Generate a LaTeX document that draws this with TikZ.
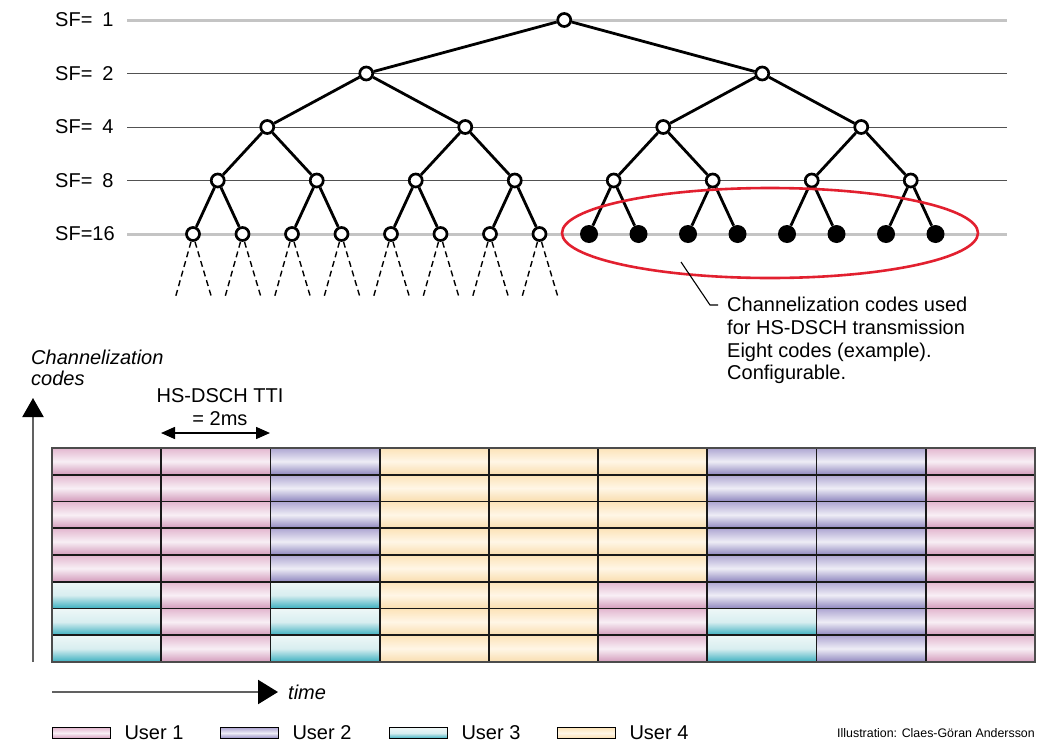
\documentclass[tikz,border=0pt]{standalone}
\usepackage{fontspec}
\setmainfont{Liberation Sans}
\usetikzlibrary{positioning, arrows.meta, shapes.geometric}

\definecolor{codered}{HTML}{E2202F}
\definecolor{pinkTop}{HTML}{E3B7CF}
\definecolor{pinkMid}{HTML}{F8EFF5}
\definecolor{pinkBot}{HTML}{D39BBB}
\definecolor{purpleTop}{HTML}{AEA6D2}
\definecolor{purpleMid}{HTML}{EEEDF6}
\definecolor{purpleBot}{HTML}{8E86BE}
\definecolor{tealTop}{HTML}{EEF7F7}
\definecolor{tealMid}{HTML}{D8EEF0}
\definecolor{tealBot}{HTML}{3AAFBF}
\definecolor{creamTop}{HTML}{FCE3B8}
\definecolor{creamMid}{HTML}{FFF6E6}
\definecolor{creamBot}{HTML}{F9DDAE}

\newcommand{\labelsize}{\fontsize{20}{22.7}\selectfont}

\begin{document}
\begin{tikzpicture}[x=1pt, y=-1pt, font=\labelsize,
    code/.style={circle, draw, fill=white, line width=2.7pt, inner sep=0pt, minimum size=13pt},
    usedcode/.style={circle, fill=black, inner sep=0pt, minimum size=18pt},
    branch/.style={line width=2.8pt},
    stub/.style={dash pattern=on 6pt off 4pt, line width=1.4pt},
    mainline/.style={line width=3pt, black!23},
    subline/.style={line width=1pt, black!68},
    user1/.style={top color=pinkTop, bottom color=pinkBot, middle color=pinkMid},
    user2/.style={top color=purpleTop, bottom color=purpleBot, middle color=purpleMid},
    user3/.style={top color=tealTop, bottom color=tealBot, middle color=tealMid},
    user4/.style={top color=creamTop, bottom color=creamBot, middle color=creamMid},
    cellline/.style={line width=1.8pt, black!90},
    axis/.style={line width=2.2pt, black!62},
    swatch/.style={rectangle, draw, line width=1.3pt, inner sep=0pt, minimum width=58pt, minimum height=11pt}]
    \useasboundingbox (0,0) rectangle (1044,744);

    % SF levels
    \foreach \lev/\lab in {0/{SF=\enspace1}, 1/{SF=\enspace2}, 2/{SF=\enspace4}, 3/{SF=\enspace8}, 4/{SF=16}}
        \node[anchor=west, inner sep=0pt] (sf\lev) at (55,{20+53.5*\lev}) {\lab};
    \draw[mainline] (127,20) -- (1007,20);
    \draw[mainline] (127,234) -- (1007,234);
    \foreach \lev in {1,2,3}
        \draw[subline] (127,{20+53.5*\lev}) -- (1007,{20+53.5*\lev});

    % Code tree
    \foreach \lev in {0,...,3} {
        \pgfmathtruncatemacro{\nmax}{2^\lev-1}
        \pgfmathtruncatemacro{\nw}{2^(4-\lev)}
        \foreach \k in {0,...,\nmax}
            \node[code] (c\lev-\k) at ({193+49.5*(\k*\nw+(\nw-1)/2)}, {20+53.5*\lev}) {};
    }
    \foreach \k in {0,...,7}
        \node[code] (c4-\k) at ({193+49.5*\k}, 234) {};
    \foreach \k in {8,...,15}
        \node[usedcode] (c4-\k) at ({193+49.5*\k}, 234) {};

    \foreach \lev in {0,...,3} {
        \pgfmathtruncatemacro{\nmax}{2^\lev-1}
        \pgfmathtruncatemacro{\nxt}{\lev+1}
        \foreach \k in {0,...,\nmax} {
            \pgfmathtruncatemacro{\kl}{2*\k}
            \pgfmathtruncatemacro{\kr}{2*\k+1}
            \draw[branch] (c\lev-\k) -- (c\nxt-\kl) (c\lev-\k) -- (c\nxt-\kr);
        }
    }
    \foreach \k in {0,...,7}
        \draw[stub] ([xshift=-2pt]c4-\k.south) -- ++(-16,57)
                    ([xshift=2pt]c4-\k.south) -- ++(17,57);

    % Codes in use
    \node[ellipse, draw=codered, line width=2.6pt, inner sep=0pt,
          minimum width=416pt, minimum height=90pt] (pool) at (770,233) {};
    \node[anchor=north west, inner sep=0pt, align=left] (note) at (727,297)
        {Channelization codes used\\for HS-DSCH transmission\\Eight codes (example).\\Configurable.};
    \coordinate (lead) at (681,262);
    \draw[line width=1.1pt] (lead) -- ([xshift=-17pt,yshift=-8pt]note.north west)
                                   -- ([xshift=-9pt,yshift=-8pt]note.north west);

    % Code/time grid
    \foreach \col/\users in {0/{1,1,1,1,1,3,3,3}, 1/{1,1,1,1,1,1,1,1}, 2/{2,2,2,2,2,3,3,3},
                             3/{4,4,4,4,4,4,4,4}, 4/{4,4,4,4,4,4,4,4}, 5/{4,4,4,4,4,1,1,1},
                             6/{2,2,2,2,2,2,3,3}, 7/{2,2,2,2,2,2,2,2}, 8/{1,1,1,1,1,1,1,1}}
        \foreach \u [count=\row from 0] in \users
            \shade[user\u] ({52+109.2*\col}, {448+26.75*\row}) rectangle ++(109.2,26.75);
    \foreach \row in {1,...,7}
        \draw[cellline] (52,{448+26.75*\row}) -- (1035,{448+26.75*\row});
    \foreach \col in {1,...,8}
        \draw[cellline] ({52+109.2*\col},448) -- ({52+109.2*\col},662);
    \draw[line width=1.6pt, black!70] (52,448) rectangle (1035,662);

    % Axes
    \node[anchor=west, inner sep=0pt, align=left, font=\fontsize{20}{21}\selectfont\itshape] (ylab) at (31,368)
        {Channelization\\codes};
    \coordinate (yfoot) at (33,662);
    \coordinate (ytip) at (33,398);
    \draw[axis, -{Triangle[length=19pt, width=21pt, color=black]}] (yfoot) -- (ytip);
    \coordinate (tfoot) at (52,692);
    \coordinate (ttip) at (278,692);
    \draw[axis, -{Triangle[length=20pt, width=24pt, color=black]}] (tfoot) -- (ttip);
    \node[right=10pt of ttip, inner sep=0pt, font=\labelsize\itshape] (tlab) {time};

    % TTI
    \node[align=center, inner sep=0pt] (tti) at (220,407) {HS-DSCH TTI\\= 2ms};
    \coordinate (ttil) at (161,433);
    \coordinate (ttir) at (270,433);
    \draw[{Triangle[length=14pt, width=12pt]}-{Triangle[length=14pt, width=12pt]}, line width=1.5pt] (ttil) -- (ttir);

    % Legend
    \foreach \u/\kx in {1/52, 2/220, 3/389, 4/557} {
        \node[swatch, user\u, anchor=west] (key\u) at (\kx,733) {};
        \node[right=13pt of key\u, inner sep=0pt] (keytext\u) {User \u};
    }
    \node[anchor=east, inner sep=0pt, font=\fontsize{12.4}{14}\selectfont] (credit) at (1035,733)
        {Illustration: Claes-Göran Andersson};
\end{tikzpicture}
\end{document}
